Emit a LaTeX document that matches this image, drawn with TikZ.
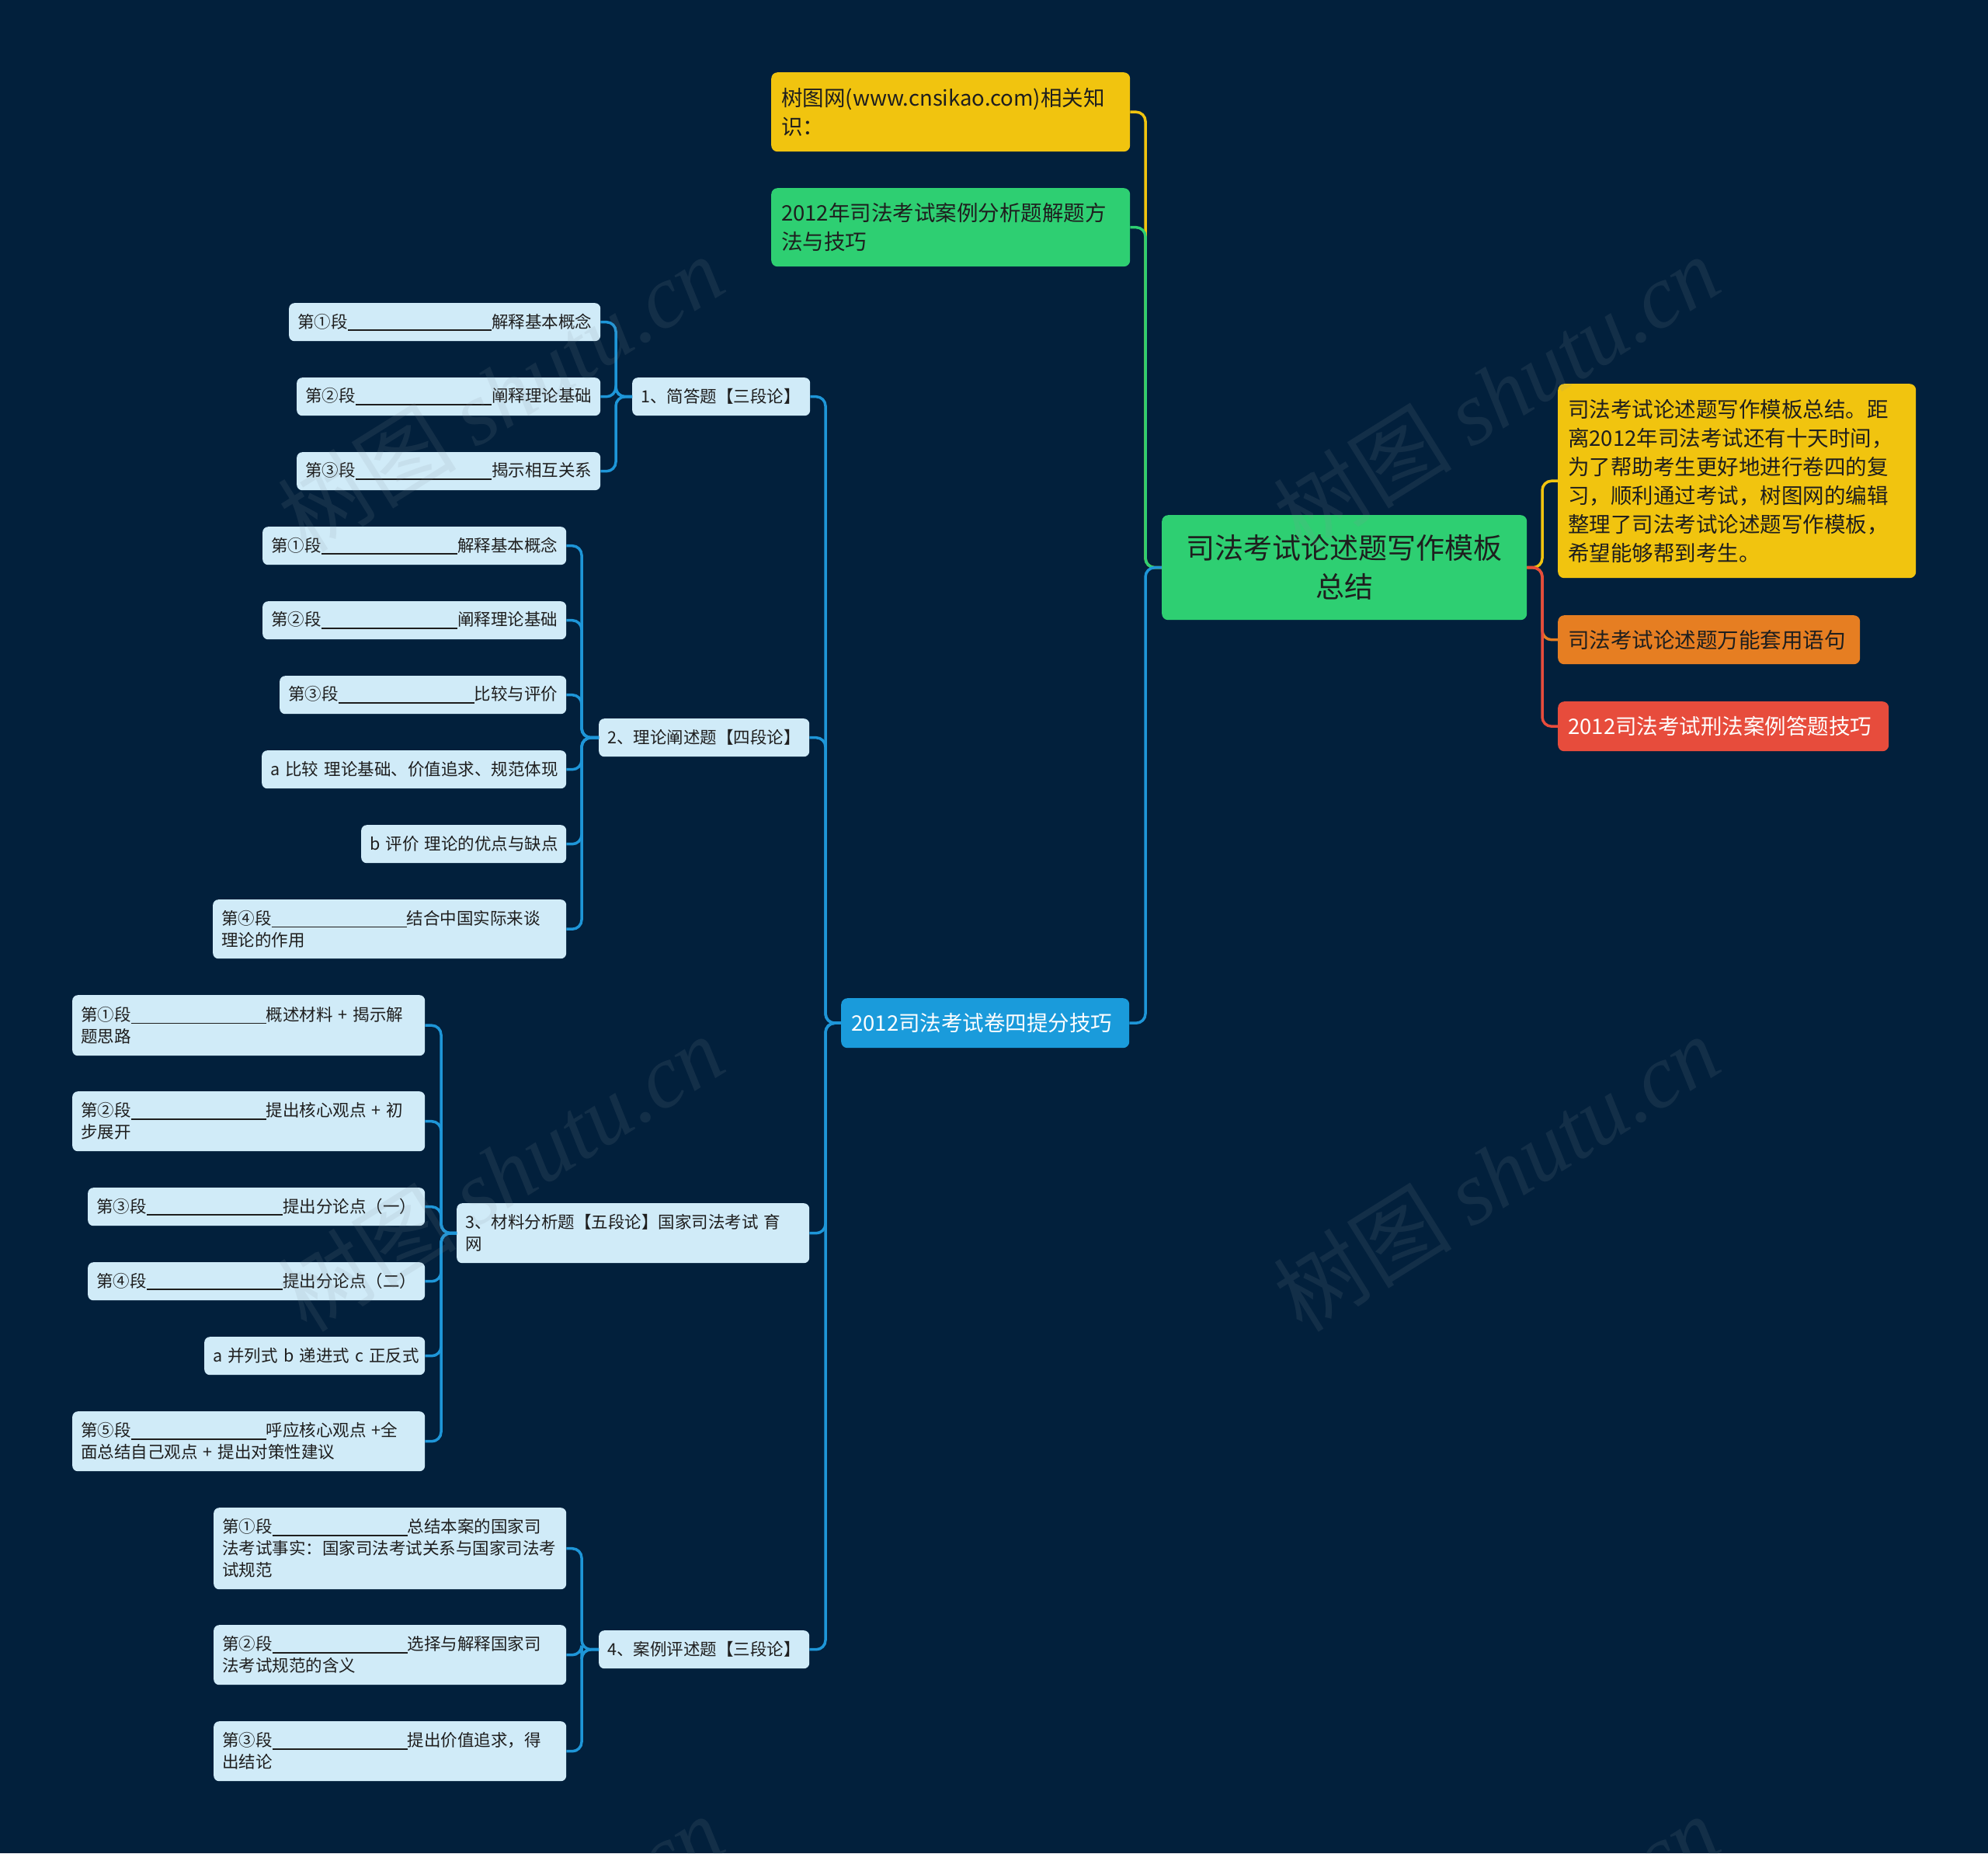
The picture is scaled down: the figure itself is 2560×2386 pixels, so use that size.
\documentclass[tikz,border=0pt]{standalone}
\usepackage{fontspec}
\setmainfont{Noto Sans CJK SC}
\newfontfamily\wmserif{Liberation Serif}
\definecolor{bgc}{HTML}{02203C}
\definecolor{leafc}{HTML}{D0EBF8}
\definecolor{linec}{HTML}{1E96D8}
\definecolor{bluefill}{HTML}{1A9BDB}
\definecolor{greenc}{HTML}{2ECF72}
\definecolor{yellowc}{HTML}{F1C40F}
\definecolor{orangec}{HTML}{E67E22}
\definecolor{redc}{HTML}{E74C3C}
\definecolor{darktext}{HTML}{1E1E1E}
\definecolor{wmc}{HTML}{8A949C}
\newcommand\ulf{\leaders\hrule height -2.4pt depth 3.8pt\hfill}
\newcommand\ulx{\rule[-3.8pt]{174pt}{1.4pt}}
\begin{document}
\begin{tikzpicture}[x=1pt,y=-1pt,
  leaf/.style={fill=leafc, text=darktext, rounded corners=7pt, inner xsep=11pt, inner ysep=0pt, anchor=north west, align=left, font=\fontsize{21.5}{28}\selectfont},
  big/.style={rounded corners=8pt, inner xsep=13pt, inner ysep=0pt, anchor=north west, align=left, font=\fontsize{27.5}{37}\selectfont},
  conn/.style={line width=3.5pt, rounded corners=12pt},
  wm/.style={rotate=32, text=wmc, text opacity=0.13, font=\fontsize{115}{125}\selectfont}
]
\fill[bgc] (0,0) rectangle (2560,2386);
% top-level nodes
\node[big, fill=yellowc, text=darktext, text width=436pt, minimum height=102pt] (a1) at (993,93) {树图网(www.cnsikao.com)相关知\\识：};
\node[big, fill=greenc, text=darktext, text width=436pt, minimum height=101pt] (a2) at (993,242) {2012年司法考试案例分析题解题方\\法与技巧};
\node[big, fill=bluefill, text=white, text width=345pt, minimum height=64pt] (blue) at (1083,1285) {2012司法考试卷四提分技巧};
\node[big, fill=greenc, text=darktext, text width=444pt, minimum height=135pt, align=center, font=\fontsize{37}{50}\selectfont] (root) at (1496,663) {司法考试论述题写作模板\\总结};
\node[big, fill=yellowc, text=darktext, text width=435pt, minimum height=250pt] (ry) at (2006,494) {司法考试论述题写作模板总结。距\\离2012年司法考试还有十天时间，\\为了帮助考生更好地进行卷四的复\\习，顺利通过考试，树图网的编辑\\整理了司法考试论述题写作模板，\\希望能够帮到考生。};
\node[big, fill=orangec, text=darktext, text width=363pt, minimum height=63pt] (ro) at (2006,792) {司法考试论述题万能套用语句};
\node[big, fill=redc, text=white, text width=400pt, minimum height=64pt] (rr) at (2006,903) {2012司法考试刑法案例答题技巧};
% second level
\node[leaf, text width=207pt, minimum height=49pt] (b1) at (814,486) {\mbox{1、简答题【三段论】}};
\node[leaf, text width=249pt, minimum height=49pt] (b2) at (771,925) {\mbox{2、理论阐述题【四段论】}};
\node[leaf, text width=432pt, minimum height=77pt] (b3) at (588,1549) {\mbox{3、材料分析题【五段论】国家司法考试 育}\\网};
\node[leaf, text width=249pt, minimum height=49pt] (b4) at (771,2099) {\mbox{4、案例评述题【三段论】}};
% leaves of b1
\node[leaf, text width=379pt, minimum height=49pt] (l11) at (372,390) {第①段\ulf 解释基本概念};
\node[leaf, text width=369pt, minimum height=49pt] (l12) at (382,486) {第②段\ulf 阐释理论基础};
\node[leaf, text width=369pt, minimum height=49pt] (l13) at (382,582) {第③段\ulf 揭示相互关系};
% leaves of b2
\node[leaf, text width=369pt, minimum height=49pt] (l21) at (338,678) {第①段\ulf 解释基本概念};
\node[leaf, text width=369pt, minimum height=49pt] (l22) at (338,774) {第②段\ulf 阐释理论基础};
\node[leaf, text width=347pt, minimum height=49pt] (l23) at (360,870) {第③段\ulf 比较与评价};
\node[leaf, text width=370pt, minimum height=49pt] (l24) at (337,966) {\mbox{a 比较 理论基础、价值追求、规范体现}};
\node[leaf, text width=242pt, minimum height=49pt] (l25) at (465,1062) {\mbox{b 评价 理论的优点与缺点}};
\node[leaf, text width=433pt, minimum height=76pt] (l26) at (274,1158) {第④段\ulx 结合中国实际来谈\\理论的作用};
% leaves of b3
\node[leaf, text width=432pt, minimum height=78pt] (l31) at (93,1281) {\mbox{第①段\ulx 概述材料 + 揭示解}\\题思路};
\node[leaf, text width=432pt, minimum height=77pt] (l32) at (93,1405) {\mbox{第②段\ulx 提出核心观点 + 初}\\步展开};
\node[leaf, text width=412pt, minimum height=49pt] (l33) at (113,1529) {第③段\ulf 提出分论点（一）};
\node[leaf, text width=412pt, minimum height=49pt] (l34) at (113,1625) {第④段\ulf 提出分论点（二）};
\node[leaf, text width=262pt, minimum height=49pt] (l35) at (263,1721) {\mbox{a 并列式 b 递进式 c 正反式}};
\node[leaf, text width=432pt, minimum height=77pt] (l36) at (93,1817) {\mbox{第⑤段\ulx 呼应核心观点 +全}\\\mbox{面总结自己观点 + 提出对策性建议}};
% leaves of b4
\node[leaf, text width=432pt, minimum height=105pt] (l41) at (275,1941) {第①段\ulx 总结本案的国家司\\法考试事实：国家司法考试关系与国家司法考\\试规范};
\node[leaf, text width=432pt, minimum height=77pt] (l42) at (275,2092) {第②段\ulx 选择与解释国家司\\法考试规范的含义};
\node[leaf, text width=432pt, minimum height=77pt] (l43) at (275,2216) {第③段\ulx 提出价值追求，得\\出结论};
% bus coordinates
\coordinate (v1) at (793,0);
\coordinate (v2) at (749,0);
\coordinate (v3) at (568,0);
\coordinate (v4) at (749,0);
\coordinate (vb) at (1063,0);
\coordinate (vl) at (1475,0);
\coordinate (vr) at (1986,0);
% connectors
\foreach \c in {l11,l12,l13} \draw[conn, linec] (\c.east) -- (\c.east -| v1) -- (b1.west -| v1) -- (b1.west);
\foreach \c in {l21,l22,l23,l24,l25,l26} \draw[conn, linec] (\c.east) -- (\c.east -| v2) -- (b2.west -| v2) -- (b2.west);
\foreach \c in {l31,l32,l33,l34,l35,l36} \draw[conn, linec] (\c.east) -- (\c.east -| v3) -- (b3.west -| v3) -- (b3.west);
\foreach \c in {l41,l42,l43} \draw[conn, linec] (\c.east) -- (\c.east -| v4) -- (b4.west -| v4) -- (b4.west);
\foreach \c in {b1,b2,b3,b4} \draw[conn, linec] (\c.east) -- (\c.east -| vb) -- (blue.west -| vb) -- (blue.west);
\draw[conn, yellowc] (a1.east) -- (a1.east -| vl) -- (root.west -| vl) -- (root.west);
\draw[conn, greenc] (a2.east) -- (a2.east -| vl) -- (root.west -| vl) -- (root.west);
\draw[conn, linec] (blue.east) -- (blue.east -| vl) -- (root.west -| vl) -- (root.west);
\draw[conn, yellowc] (root.east) -- (root.east -| vr) -- (ry.west -| vr) -- (ry.west);
\draw[conn, orangec] (root.east) -- (root.east -| vr) -- (ro.west -| vr) -- (ro.west);
\draw[conn, redc] (root.east) -- (root.east -| vr) -- (rr.west -| vr) -- (rr.west);
% watermarks, over everything
\begin{scope}
\clip (0,0) rectangle (2560,2386);
\foreach \px/\py in {645/506, 1927/506, 645/1510, 1927/1510, 645/2514, 1927/2514}
  \node[wm] (wm\px\py) at (\px,\py) {树图 {\wmserif\itshape shutu.cn}};
\end{scope}
\end{tikzpicture}
\end{document}
